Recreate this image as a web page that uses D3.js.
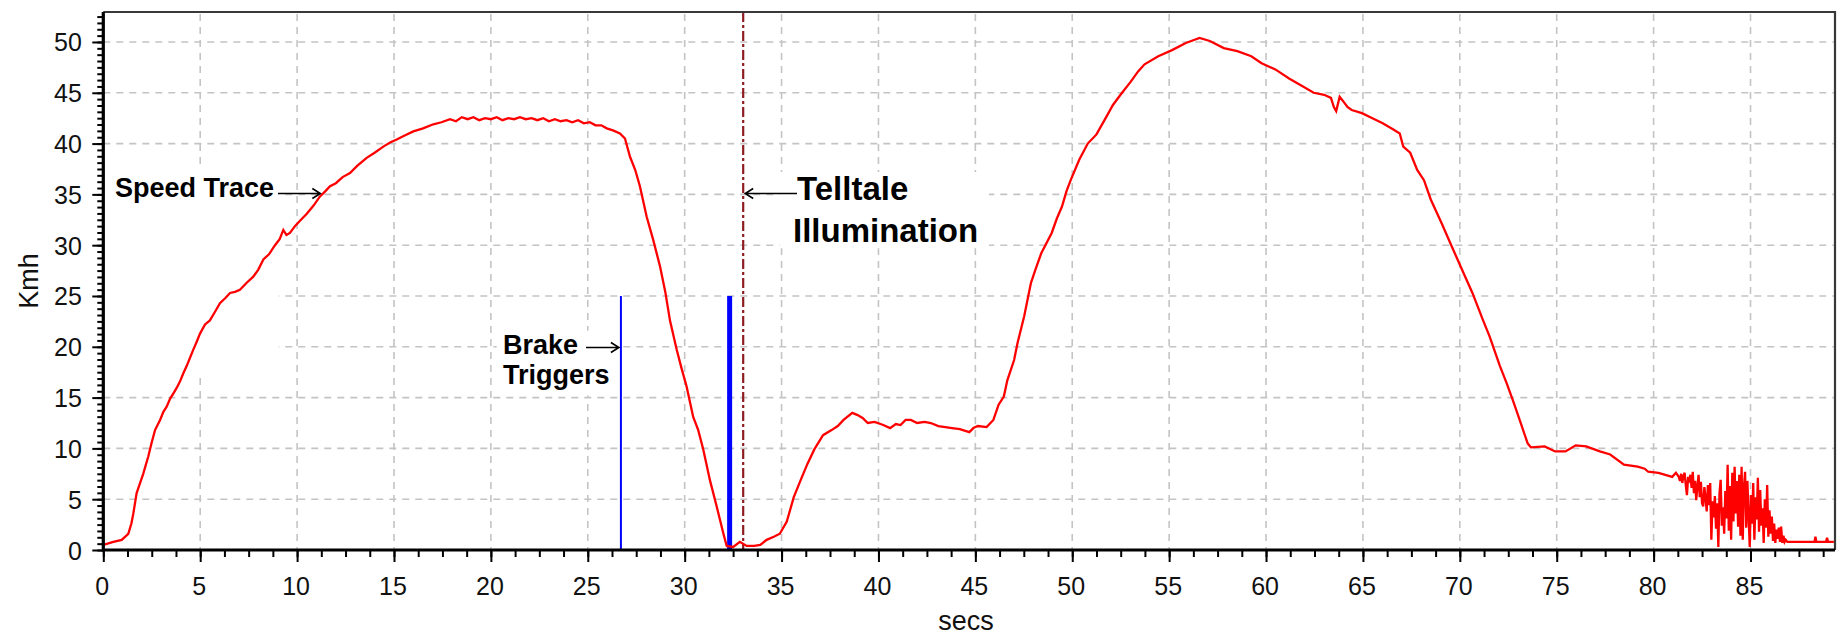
<!DOCTYPE html>
<html>
<head>
<meta charset="utf-8">
<script src="https://cdn.jsdelivr.net/npm/d3@7"></script>
<style>
  html, body { margin: 0; padding: 0; background: #ffffff; }
  svg { display: block; }
</style>
</head>
<body>
<svg id="chart" width="1842" height="636"></svg>
<script>
// Vehicle speed trace: time in seconds, speed in km/h
const traceTime = [
  0.00, 0.52, 0.95, 1.29, 1.45, 1.55, 1.72, 1.90, 2.06, 2.32, 2.50, 2.67, 2.93, 3.10, 3.27, 3.45, 3.61, 3.80, 3.96, 4.13,
  4.30, 4.47, 4.64, 4.82, 4.99, 5.25, 5.50, 5.75, 6.02, 6.30, 6.54, 6.80, 7.05, 7.40, 7.74, 8.00, 8.26, 8.55, 8.86, 9.10,
  9.29, 9.45, 9.63, 9.90, 10.15, 10.50, 10.85, 11.18, 11.45, 11.70, 12.00, 12.35, 12.73, 13.10, 13.59, 14.00, 14.45, 14.80, 15.14, 15.55,
  16.00, 16.50, 17.03, 17.45, 17.89, 18.20, 18.50, 18.80, 19.10, 19.40, 19.70, 20.00, 20.30, 20.60, 20.90, 21.20, 21.50, 21.80, 22.10, 22.40,
  22.70, 23.00, 23.30, 23.60, 23.90, 24.20, 24.50, 24.80, 25.10, 25.40, 25.70, 25.98, 26.30, 26.66, 26.92, 27.18, 27.45, 27.69, 28.04, 28.38,
  28.73, 29.00, 29.24, 29.59, 29.85, 30.10, 30.44, 30.70, 30.96, 31.30, 31.65, 32.00, 32.17, 32.50, 32.85, 33.20, 33.60, 33.90, 34.23, 34.60,
  34.91, 35.27, 35.63, 35.99, 36.34, 36.69, 37.14, 37.58, 37.90, 38.20, 38.65, 38.90, 39.18, 39.45, 39.80, 40.25, 40.60, 40.90, 41.14, 41.40,
  41.67, 42.00, 42.38, 42.70, 43.09, 43.45, 43.80, 44.20, 44.69, 44.90, 45.13, 45.58, 45.93, 46.20, 46.47, 46.65, 47.00, 47.18, 47.52, 47.87,
  48.10, 48.40, 48.94, 49.20, 49.47, 49.70, 49.92, 50.36, 50.80, 51.25, 51.78, 52.10, 52.49, 53.02, 53.40, 53.73, 54.44, 55.15, 55.86, 56.57,
  57.10, 57.82, 58.52, 59.24, 59.77, 60.48, 61.19, 61.75, 62.46, 63.00, 63.35, 63.50, 63.62, 63.80, 63.97, 64.20, 64.42, 64.95, 65.49, 66.02,
  66.55, 66.90, 67.08, 67.44, 67.80, 68.15, 68.50, 69.05, 69.58, 70.11, 70.65, 71.18, 71.54, 72.07, 72.42, 72.78, 73.14, 73.50, 73.67, 74.38,
  74.92, 75.45, 75.98, 76.52, 77.23, 77.76, 78.47, 79.18, 79.54, 79.72, 80.25, 80.96, 81.15,
  81.30, 81.36, 81.42, 81.48, 81.54, 81.60, 81.66, 81.72, 81.78, 81.84, 81.90, 81.96, 82.02, 82.08, 82.14, 82.20, 82.26, 82.32, 82.38, 82.44,
  82.50, 82.56, 82.62, 82.68, 82.74, 82.80, 82.86, 82.92, 82.98, 83.04, 83.10, 83.16, 83.22, 83.28, 83.34, 83.40, 83.46, 83.52, 83.58, 83.64,
  83.70, 83.76, 83.82, 83.88, 83.94, 84.00, 84.06, 84.12, 84.18, 84.24, 84.30, 84.36, 84.42, 84.48, 84.54, 84.60, 84.66, 84.72, 84.78, 84.84,
  84.90, 84.96, 85.02, 85.08, 85.14, 85.20, 85.26, 85.32, 85.38, 85.44, 85.50, 85.56, 85.62, 85.68, 85.74, 85.80, 85.86, 85.92, 85.98, 86.04,
  86.10, 86.16, 86.22, 86.28, 86.34, 86.40, 86.46, 86.52, 86.58, 86.64, 86.70, 86.76, 86.82, 86.90,
  87.50, 88.00, 88.30, 88.35, 88.40, 88.90, 88.95, 89.00, 89.30
];
const traceSpeed = [
  0.5, 0.8, 1.0, 1.6, 2.6, 3.6, 5.6, 6.6, 7.5, 9.2, 10.6, 11.8, 12.8, 13.6, 14.1, 14.9, 15.4, 16.0, 16.6, 17.4,
  18.1, 18.9, 19.7, 20.5, 21.3, 22.2, 22.6, 23.4, 24.3, 24.8, 25.3, 25.4, 25.6, 26.3, 26.9, 27.6, 28.6, 29.1, 30.0, 30.6,
  31.5, 31.0, 31.2, 31.9, 32.4, 33.1, 33.9, 34.8, 35.3, 35.8, 36.1, 36.7, 37.1, 37.8, 38.6, 39.1, 39.7, 40.1, 40.4, 40.8,
  41.2, 41.5, 41.9, 42.1, 42.4, 42.2, 42.6, 42.4, 42.6, 42.3, 42.5, 42.4, 42.6, 42.3, 42.5, 42.4, 42.6, 42.4, 42.5, 42.3,
  42.5, 42.2, 42.4, 42.2, 42.3, 42.1, 42.3, 42.0, 42.1, 41.8, 41.8, 41.5, 41.3, 41.0, 40.5, 38.7, 37.4, 35.8, 32.8, 30.5,
  27.9, 25.4, 22.6, 19.7, 17.8, 16.1, 13.1, 11.8, 9.9, 6.9, 4.3, 1.6, 0.4, 0.3, 0.8, 0.4, 0.4, 0.5, 1.0, 1.3,
  1.6, 2.8, 5.2, 6.9, 8.5, 9.9, 11.3, 11.8, 12.2, 12.8, 13.5, 13.3, 13.0, 12.5, 12.6, 12.3, 12.0, 12.4, 12.3, 12.8,
  12.8, 12.5, 12.6, 12.5, 12.2, 12.1, 12.0, 11.9, 11.6, 12.0, 12.2, 12.1, 12.8, 14.3, 15.1, 16.7, 18.7, 20.4, 23.0, 26.3,
  27.6, 29.2, 31.2, 32.6, 33.8, 35.3, 36.4, 38.4, 40.0, 40.9, 42.7, 43.8, 44.8, 46.1, 47.1, 47.8, 48.6, 49.2, 49.9, 50.4,
  50.1, 49.4, 49.1, 48.6, 47.9, 47.3, 46.4, 45.8, 45.0, 44.8, 44.5, 43.6, 43.2, 44.6, 44.2, 43.6, 43.3, 43.0, 42.5, 42.0,
  41.4, 41.0, 39.7, 39.1, 37.4, 36.4, 34.5, 32.2, 29.9, 27.6, 25.3, 22.7, 21.0, 18.1, 16.4, 14.5, 12.5, 10.5, 10.1, 10.2,
  9.7, 9.7, 10.3, 10.2, 9.7, 9.4, 8.4, 8.2, 8.0, 7.7, 7.6, 7.2, 7.6,
  7.2, 6.8, 7.5, 6.6, 7.3, 7.6, 6.4, 5.4, 7.2, 6.9, 7.4, 6.1, 7.7, 5.6, 6.8, 4.9, 6.3, 7.4, 5.2, 6.7,
  4.6, 4.3, 6.2, 5.1, 3.8, 6.4, 4.4, 6.6, 1.0, 4.8, 3.2, 5.3, 2.1, 4.6, 0.3, 5.6, 6.9, 2.4, 4.2, 1.6,
  5.8, 3.1, 8.4, 1.9, 6.3, 1.0, 7.6, 2.8, 8.2, 3.6, 6.8, 2.3, 7.4, 1.4, 8.2, 1.0, 6.2, 7.7, 2.2, 6.8,
  3.4, 0.3, 5.4, 2.6, 6.6, 1.0, 5.2, 3.0, 7.1, 1.8, 5.9, 2.4, 4.1, 0.7, 5.0, 2.2, 6.4, 1.3, 3.9, 1.6,
  3.3, 0.9, 2.6, 0.7, 2.0, 1.1, 2.2, 0.8, 2.3, 0.7, 1.4, 0.8, 1.0, 0.8,
  0.8, 0.8, 0.8, 1.3, 0.8, 0.8, 1.2, 0.8, 0.8
];

// Brake trigger events (s) and the height their markers reach (km/h)
const brakeTimes = [26.71, 32.32];
const brakeMarkerTop = 25;
// Moment the warning telltale lights up (s)
const telltaleTime = 33.02;

// Axis ticks
const xTickValues = [0, 5, 10, 15, 20, 25, 30, 35, 40, 45, 50, 55, 60, 65, 70, 75, 80, 85];
const yTickValues = [0, 5, 10, 15, 20, 25, 30, 35, 40, 45, 50];
const xMinorStep = 1.25;
const yMinorStep = 0.625;
const xMax = 89.36;
const yMax = 52.95;

const xLabel = "secs";
const yLabel = "Kmh";

// ---------------------------------------------------------------
const svg = d3.select("#chart");
const plot = { left: 103.3, right: 1835, top: 12, bottom: 550 };

const x = d3.scaleLinear().domain([0, xMax]).range([plot.left, plot.right]);
const y = d3.scaleLinear().domain([0, yMax]).range([plot.bottom, plot.top]);

const tickFont = "'Liberation Sans', Arial, sans-serif";

// Dashed grid
const grid = svg.append("g").attr("stroke", "#c4c4c4").attr("stroke-width", 1.6)
  .attr("stroke-dasharray", "7,6");
grid.selectAll("line.v").data(xTickValues.filter(d => d > 0)).join("line")
  .attr("class", "v")
  .attr("x1", d => x(d)).attr("x2", d => x(d))
  .attr("y1", plot.top + 2).attr("y2", plot.bottom);
grid.selectAll("line.h").data(yTickValues.filter(d => d > 0)).join("line")
  .attr("class", "h")
  .attr("x1", plot.left).attr("x2", plot.right)
  .attr("y1", d => y(d)).attr("y2", d => y(d));

// White panels behind the annotation text
const panels = [
  { t0: 0.05, t1: 9.05, v0: 17.2, v1: 37.5 },
  { t0: 20.3, t1: 26.6, v0: 15.2, v1: 21.6 },
  { t0: 34.9, t1: 45.7, v0: 29.7, v1: 37.2 }
];
svg.append("g").selectAll("rect").data(panels).join("rect")
  .attr("x", d => x(d.t0)).attr("width", d => x(d.t1) - x(d.t0))
  .attr("y", d => y(d.v1)).attr("height", d => y(d.v0) - y(d.v1))
  .attr("fill", "#ffffff");

// Brake trigger markers
const brakeWidths = [2, 5];
svg.append("g").selectAll("line").data(brakeTimes).join("line")
  .attr("x1", d => x(d)).attr("x2", d => x(d))
  .attr("y1", y(0)).attr("y2", y(brakeMarkerTop))
  .attr("stroke", "#0000ff")
  .attr("stroke-width", (d, i) => brakeWidths[i]);

// Telltale illumination marker
svg.append("line")
  .attr("x1", x(telltaleTime)).attr("x2", x(telltaleTime))
  .attr("y1", plot.top).attr("y2", plot.bottom)
  .attr("stroke", "#8e1c22").attr("stroke-width", 2.2)
  .attr("stroke-dasharray", "10,3,3,3");

// Speed trace
const traceData = traceTime.map((t, i) => [t, traceSpeed[i]]);
svg.append("path")
  .datum(traceData)
  .attr("fill", "none")
  .attr("stroke", "#ff0000")
  .attr("stroke-width", 2.3)
  .attr("stroke-linejoin", "miter")
  .attr("d", d3.line().x(d => x(d[0])).y(d => y(d[1])));

// Frame: top and right edges
svg.append("path")
  .attr("d", `M${plot.left},${plot.top}H${plot.right}V${plot.bottom}`)
  .attr("fill", "none").attr("stroke", "#383838").attr("stroke-width", 2.2);

// Axes: minor ticks
svg.append("g")
  .attr("transform", `translate(0,${plot.bottom})`)
  .call(d3.axisBottom(x).tickValues(d3.range(0, xMax, xMinorStep)).tickSize(7).tickFormat(""))
  .call(g => g.select(".domain").remove())
  .call(g => g.selectAll("line").attr("stroke", "#000").attr("stroke-width", 2));
svg.append("g")
  .attr("transform", `translate(${plot.left},0)`)
  .call(d3.axisLeft(y).tickValues(d3.range(0, yMax, yMinorStep)).tickSize(6).tickFormat(""))
  .call(g => g.select(".domain").remove())
  .call(g => g.selectAll("line").attr("stroke", "#000").attr("stroke-width", 2));

// Axes: major ticks and labels
const xAxis = svg.append("g")
  .attr("transform", `translate(0,${plot.bottom})`)
  .call(d3.axisBottom(x).tickValues(xTickValues).tickSize(12).tickFormat(d3.format("d")));
xAxis.select(".domain").remove();
xAxis.selectAll("line").attr("stroke", "#000").attr("stroke-width", 2);
xAxis.selectAll("text")
  .attr("y", 45).attr("dy", 0).attr("dx", -1.5)
  .attr("fill", "#111")
  .style("font-family", tickFont).style("font-size", "25px");

const yAxis = svg.append("g")
  .attr("transform", `translate(${plot.left},0)`)
  .call(d3.axisLeft(y).tickValues(yTickValues).tickSize(11).tickFormat(d3.format("d")));
yAxis.select(".domain").remove();
yAxis.selectAll("line").attr("stroke", "#000").attr("stroke-width", 2);
yAxis.selectAll("text")
  .attr("x", -21.5).attr("dy", "0.36em")
  .attr("fill", "#111")
  .style("font-family", tickFont).style("font-size", "25px");

// Heavy left and bottom axis lines
svg.append("path")
  .attr("d", `M${plot.left},${plot.top}V${plot.bottom}H${plot.right}`)
  .attr("fill", "none").attr("stroke", "#000").attr("stroke-width", 3.2);

// Axis titles
svg.append("text")
  .attr("x", 966).attr("y", 630)
  .attr("text-anchor", "middle")
  .attr("fill", "#111")
  .style("font-family", tickFont).style("font-size", "27px")
  .text(xLabel);
svg.append("text")
  .attr("transform", "translate(38,281) rotate(-90)")
  .attr("text-anchor", "middle")
  .attr("fill", "#111")
  .style("font-family", tickFont).style("font-size", "27px")
  .text(yLabel);

// Annotations
const boldFont = "'Liberation Sans', Arial, sans-serif";
function note(lines, px, baselines, size) {
  const g = svg.append("g")
    .style("font-family", boldFont).style("font-weight", "bold")
    .style("font-size", size + "px").attr("fill", "#000");
  lines.forEach((s, i) => g.append("text").attr("x", px[i]).attr("y", baselines[i]).text(s));
}
function arrow(x1, x2, yy) {
  const dir = x2 > x1 ? 1 : -1;
  svg.append("path")
    .attr("d", `M${x1},${yy}H${x2}M${x2 - dir * 8},${yy - 5}L${x2},${yy}L${x2 - dir * 8},${yy + 5}`)
    .attr("fill", "none").attr("stroke", "#000").attr("stroke-width", 1.6);
}

note(["Speed Trace"], [115], [197], 27);
arrow(278, x(11.2), 193.5);

note(["Brake", "Triggers"], [503, 503], [353.5, 383.5], 27);
arrow(586, x(brakeTimes[0]) - 2, 347.5);

note(["Telltale", "Illumination"], [797, 793], [200, 242], 33);
arrow(797, x(telltaleTime) + 2, 193.5);
</script>
</body>
</html>
